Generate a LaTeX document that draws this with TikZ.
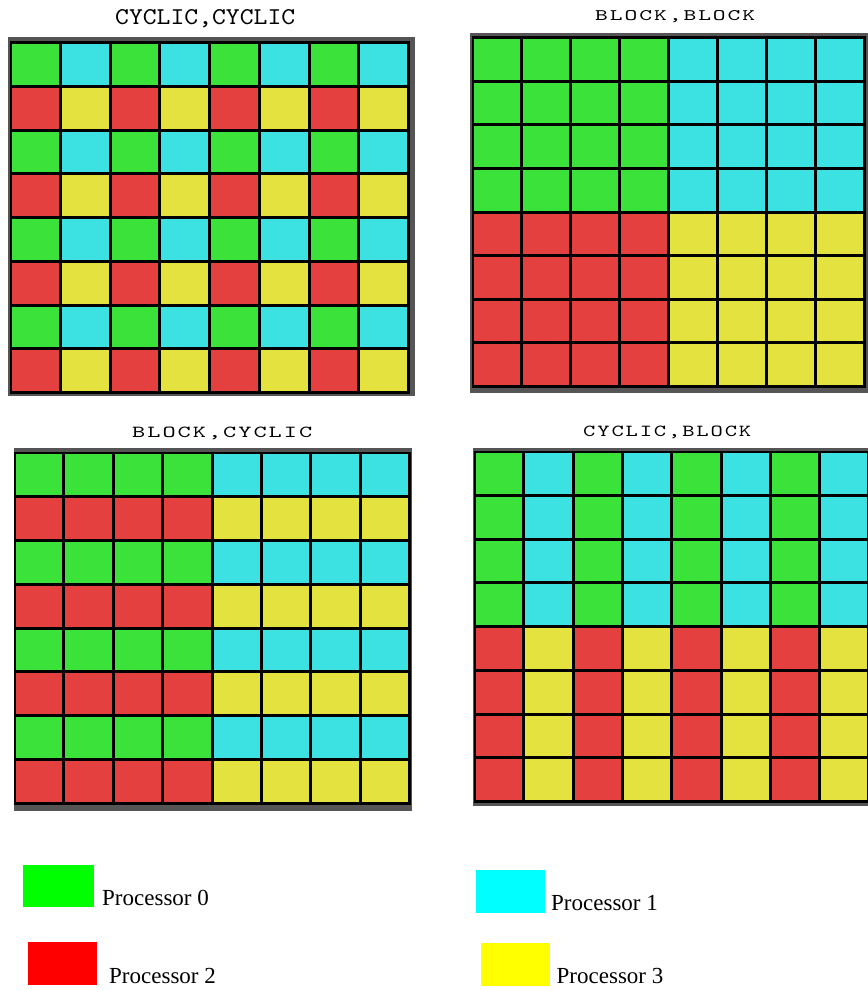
\documentclass[tikz,border=0pt]{standalone}
\usepackage{fontspec}
\setmainfont{Liberation Serif}
\definecolor{proc0}{RGB}{58,226,58}
\definecolor{proc1}{RGB}{60,226,226}
\definecolor{proc2}{RGB}{228,64,64}
\definecolor{proc3}{RGB}{228,226,62}
\definecolor{framegray}{RGB}{85,85,85}
\definecolor{legG}{RGB}{0,255,0}
\definecolor{legC}{RGB}{0,255,255}
\definecolor{legR}{RGB}{255,0,0}
\definecolor{legY}{RGB}{255,255,0}
\newcommand\lsp[1]{#1\kern0.08em}
\tikzset{
  legbox/.style={draw=none,inner sep=0,outer sep=0,anchor=north west},
  legtext/.style={inner sep=0,anchor=base west,font=\fontsize{23}{27}\selectfont},
  gtitle/.style={inner sep=0,anchor=base west}
}
% #1 x0, #2 y0, #3 x1, #4 y1 (cell area); #5 row mode (0 cyclic,1 block); #6 col mode
\newcommand\drawcells[6]{%
  \pgfmathsetmacro\pxw{(#3-#1+3)/8}%
  \pgfmathsetmacro\pyh{(#4-#2+3)/8}%
  \foreach \r in {0,...,7}{%
    \foreach \c in {0,...,7}{%
      \pgfmathtruncatemacro\rowbit{#5==0 ? mod(\r,2) : (\r>3 ? 1 : 0)}%
      \pgfmathtruncatemacro\colbit{#6==0 ? mod(\c,2) : (\c>3 ? 1 : 0)}%
      \pgfmathtruncatemacro\pid{2*\rowbit+\colbit}%
      \fill[proc\pid] ({#1+\c*\pxw},{#2+\r*\pyh}) rectangle ++({\pxw-3},{\pyh-3});
    }%
  }%
}
\begin{document}
\begin{tikzpicture}[x=1pt,y=-1pt]
\useasboundingbox (0,0) rectangle (867,990);
\fill[white] (0,0) rectangle (867,990);

% Grid 1: CYCLIC,CYCLIC
\fill[framegray] (8,37) rectangle (415,395.5);
\fill[black] (10,41) rectangle (410,394);
\drawcells{12}{44}{407}{391}{0}{0}
\node[gtitle] (t1) at (115,25) {\resizebox{180pt}{15pt}{\ttfamily CYCLIC,CYCLIC}};

% Grid 2: BLOCK,BLOCK
\fill[framegray] (470,33) rectangle (872,393);
\fill[black] (472,36) rectangle (866,388);
\drawcells{474}{39}{863}{385}{1}{1}
\node[gtitle] (t2) at (595,21) {\resizebox{160pt}{10pt}{\ttfamily\lsp B\lsp L\lsp O\lsp C\lsp K\lsp ,\lsp B\lsp L\lsp O\lsp C K}};

% Grid 3: BLOCK,CYCLIC
\fill[framegray] (13.5,448) rectangle (412,811);
\fill[black] (14,451.5) rectangle (410.5,804.5);
\drawcells{16}{454}{408}{802}{0}{1}
\node[gtitle] (t3) at (132,437) {\resizebox{180pt}{10.5pt}{\ttfamily\lsp B\lsp L\lsp O\lsp C\lsp K\lsp ,\lsp C\lsp Y\lsp C\lsp L\lsp I C}};

% Grid 4: CYCLIC,BLOCK
\fill[framegray] (473,448) rectangle (875,806);
\fill[black] (473.5,450.5) rectangle (872,803);
\drawcells{476}{453}{867.4}{800}{1}{0}
\node[gtitle] (t4) at (583,436.5) {\resizebox{168pt}{10.5pt}{\ttfamily\lsp C\lsp Y\lsp C\lsp L\lsp I\lsp C\lsp ,\lsp B\lsp L\lsp O\lsp C K}};

% Legend
\node[legbox,fill=legG,minimum width=71pt,minimum height=42pt] (l0) at (23,865) {};
\node[legtext] (l0t) at (102,905) {Processor 0};
\node[legbox,fill=legC,minimum width=69pt,minimum height=43pt] (l1) at (476,870) {};
\node[legtext] (l1t) at (551,910.5) {Processor 1};
\node[legbox,fill=legR,minimum width=69pt,minimum height=43pt] (l2) at (28,942) {};
\node[legtext] (l2t) at (109,983) {Processor 2};
\node[legbox,fill=legY,minimum width=69pt,minimum height=43pt] (l3) at (481,943) {};
\node[legtext] (l3t) at (556.5,983.5) {Processor 3};
\end{tikzpicture}
\end{document}
